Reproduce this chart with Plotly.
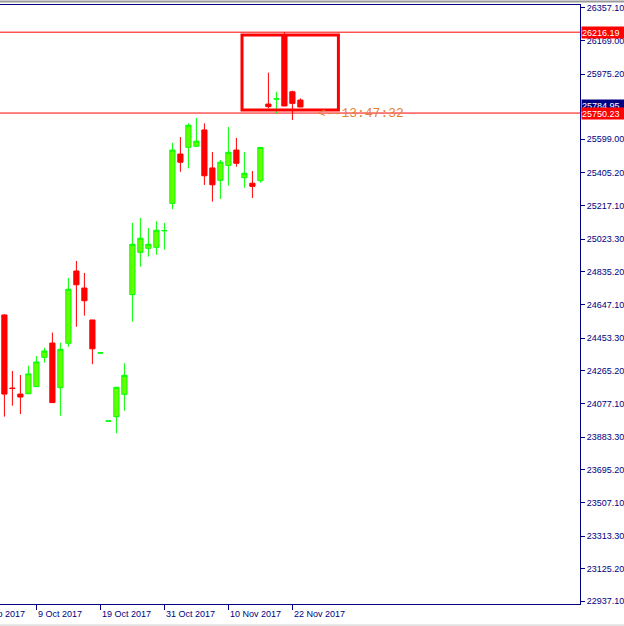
import numpy as np
import pandas as pd
import plotly.graph_objects as go

# ---------------- data ----------------
dates = pd.bdate_range("2017-10-03", periods=38)

opens = [24587, 24166, 24131, 24133, 24174, 24343, 24425, 24168, 24424, 24840,
         24742, 24558, 24367.5, 23975.5, 24001, 24130, 24704, 24948, 24971, 24977,
         25072, 25230, 25514, 25553, 25559, 25653, 25434, 25363, 25449, 25537,
         25378, 25346, 25361, 25802, 25831, 26200, 25873, 25825]
highs = [24590, 24264, 24241, 24294, 24350, 24398, 24485, 24427, 24800, 24898,
         24829, 24559, 24368, 23976, 24171, 24308, 25117, 25146, 25088, 25127,
         25117, 25579, 25612, 25691, 25722, 25691, 25526, 25480, 25670, 25607,
         25526, 25416, 25553, 25983, 25873, 26216, 25879, 25835]
lows = [24001, 24064, 24016, 24131, 24173, 24312, 24081, 24006, 24404, 24519,
        24583, 24303, 24367.5, 23975.5, 23905, 24035, 24548, 24865, 24923, 24934,
        24963, 25196, 25412, 25432, 25558, 25336, 25240, 25255, 25332, 25441,
        25320, 25261, 25349, 25778, 25749, 25790, 25710, 25785]
closes = [24131, 24163, 24114, 24247, 24316, 24379, 24082, 24389, 24735, 24761,
          24669, 24392, 24368, 23976, 24170, 24239, 24994, 25029, 24994, 25075,
          25073, 25537, 25467, 25680, 25588, 25389, 25337, 25467, 25524, 25461,
          25403, 25328, 25552, 25787, 25832, 25791, 25806, 25784.95]

tick_dates = ["2017-09-27", "2017-10-09", "2017-10-19", "2017-10-31",
              "2017-11-10", "2017-11-22"]
tick_labels = ["27 Sep 2017", "9 Oct 2017", "19 Oct 2017", "31 Oct 2017",
               "10 Nov 2017", "22 Nov 2017"]

price_ticks = [26357.10, 26169.00, 25975.20, 25599.00, 25405.20, 25217.10,
               25023.30, 24835.20, 24647.10, 24453.30, 24265.20, 24077.10,
               23883.30, 23695.20, 23507.10, 23313.30, 23125.20, 22937.10]

hline_levels = [26216.19, 25750.23]
bid_price = 25784.95
rect_bars = [29.7, 41.75]
rect_prices = [25768, 26200]
timer_text = "<--13:47:32"
timer_bar = 39

# ---------------- figure ----------------
NAVY = "#000080"
X_RANGE = [-0.55, 71.95]
PLOT_W = 580
px_per_bar = PLOT_W / (X_RANGE[1] - X_RANGE[0])
bar_pos = np.arange(len(dates))
tick_pos = [int(np.busday_count(dates[0].date(), np.datetime64(d))) for d in tick_dates]

fig = go.Figure()
fig.add_trace(go.Candlestick(
    x=bar_pos, open=opens, high=highs, low=lows, close=closes,
    increasing=dict(line=dict(color="#00ff00", width=1), fillcolor="#66ff00"),
    decreasing=dict(line=dict(color="#ff0000", width=1), fillcolor="#ff0000"),
    whiskerwidth=0, hoverinfo="skip", showlegend=False,
))

shapes = []
for lv in hline_levels:
    shapes.append(dict(type="line", xref="paper", x0=0, x1=1, yref="y", y0=lv, y1=lv,
                       line=dict(color="#ff0000", width=1), layer="below"))
shapes.append(dict(type="rect", xref="x", yref="y", x0=rect_bars[0], x1=rect_bars[1],
                   y0=rect_prices[0], y1=rect_prices[1],
                   line=dict(color="#ff0000", width=3), fillcolor="rgba(0,0,0,0)"))
# window frame lines
shapes.append(dict(type="line", xref="paper", yref="paper", x0=0, x1=624 / 580,
                   y0=1 + 3.6 / 599, y1=1 + 3.6 / 599, line=dict(color="#9a9a9a", width=2)))
shapes.append(dict(type="line", xref="paper", yref="paper", x0=0, x1=624 / 580,
                   y0=-21.2 / 599, y1=-21.2 / 599, line=dict(color="#e2e2e2", width=2)))

annotations = []
for pos, lab in zip(tick_pos, tick_labels):
    if pos >= X_RANGE[0]:
        ax, shift = pos, 0
    else:  # label partly scrolled off the left edge
        ax, shift = X_RANGE[0] + 0.01, (pos - X_RANGE[0] - 0.01) * px_per_bar
    annotations.append(dict(x=ax, xref="x", y=0, yref="paper", text=lab,
                            xanchor="left", yanchor="top", xshift=shift, yshift=-3,
                            showarrow=False,
                            font=dict(family="Liberation Sans", size=9, color=NAVY)))
annotations.append(dict(x=1, xref="paper", y=bid_price, yref="y", text="25784.95",
                        xanchor="left", yanchor="middle", xshift=1, yshift=2, showarrow=False,
                        width=43, height=11, align="left", borderpad=0, bgcolor=NAVY,
                        font=dict(family="Liberation Sans", size=9, color="white")))
for lv in hline_levels:
    annotations.append(dict(x=1, xref="paper", y=lv, yref="y", text=f"{lv:.2f}",
                            xanchor="left", yanchor="middle", xshift=1, showarrow=False,
                            width=43, height=11, align="left", borderpad=0,
                            bgcolor="#ff0000",
                            font=dict(family="Liberation Sans", size=9, color="white")))
annotations.append(dict(x=timer_bar, xref="x", y=hline_levels[1], yref="y", text=timer_text,
                        xanchor="left", yanchor="middle", showarrow=False,
                        font=dict(family="Liberation Mono", size=13, color="#e0843a")))

fig.update_layout(
    width=624, height=626,
    margin=dict(l=0, r=44, t=5, b=22, pad=0),
    paper_bgcolor="white", plot_bgcolor="white",
    boxgap=0.35, boxgroupgap=0,
    shapes=shapes, annotations=annotations,
    xaxis=dict(range=X_RANGE, rangeslider=dict(visible=False),
               showgrid=False, zeroline=False, showline=True, linecolor=NAVY,
               linewidth=1, mirror=True, tickvals=tick_pos, showticklabels=False,
               ticks="outside", ticklen=5, tickcolor=NAVY, fixedrange=True),
    yaxis=dict(range=[22921.5, 26372.8], side="right", showgrid=False, zeroline=False,
               showline=True, linecolor=NAVY, linewidth=1, tickvals=price_ticks,
               ticktext=[f"{v:.2f}" for v in price_ticks], ticks="outside", ticklen=4,
               tickcolor=NAVY, tickfont=dict(family="Liberation Sans", size=9, color=NAVY),
               fixedrange=True),
    showlegend=False,
)

fig.write_html("out.html", config={"displayModeBar": False},
               post_script="document.body.style.margin='0';document.body.style.overflow='hidden';")
